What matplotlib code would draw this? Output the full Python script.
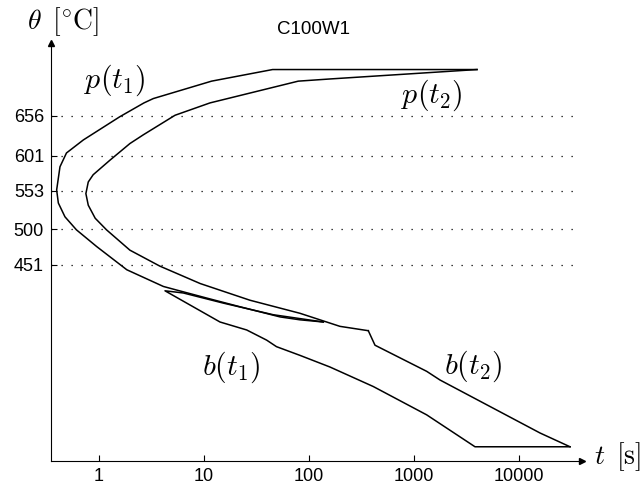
import matplotlib
matplotlib.use('Agg')
import matplotlib.pyplot as plt
from matplotlib.ticker import NullLocator

plt.rcParams['mathtext.fontset'] = 'cm'
plt.rcParams['font.family'] = ['Liberation Sans', 'DejaVu Sans']

# pearlite start p(t1), from the bay tip up to the top and along to the right
p1_t = [137, 82, 53, 22, 10.6, 5.5, 4.1, 1.84, 0.95, 0.61, 0.474, 0.41, 0.395,
        0.425, 0.49, 0.71, 1.58, 2.68, 3.29, 11.8, 45, 3980]
p1_T = [372, 375, 379, 393, 405, 416, 421, 444, 476, 499, 517, 536, 554,
        586, 605, 623, 655, 674, 680, 704, 720, 720]

# pearlite finish p(t2)
p2_t = [3980, 158, 79, 11.4, 5.3, 2.64, 1.97, 1.27, 0.88, 0.79, 0.75, 0.79,
        0.92, 1.18, 1.97, 3.8, 9.2, 27.4, 82, 197, 367]
p2_T = [720, 707, 704, 674, 657, 630, 618, 595, 575, 565, 549, 533,
        515, 499, 471, 449, 425, 402, 384, 366, 360]

# bainite start b(t1)
b1_t = [137, 45.7, 15.3, 6.35, 4.25, 14.2, 25.5, 39.5, 49, 82, 158, 410, 1320, 3810, 30600]
b1_T = [372, 382, 398, 412, 415, 372, 361, 347, 338, 326, 310, 283, 244, 200, 200]

# bainite finish b(t2)
b2_t = [367, 425, 1320, 1770, 15850, 30600]
b2_T = [360, 340, 304, 292, 219, 200]

levels = [451, 500, 553, 601, 656]
xticks = [1, 10, 100, 1000, 10000]

fig = plt.figure(figsize=(6.43, 4.95), dpi=100)
ax = fig.add_axes([51/643, (495-460.7)/495, (582-51)/643, (460.7-42.7)/495])
ax.set_xscale('log')
ax.set_xlim(0.349, 39800)
ax.set_ylim(180.8, 757)

ax.hlines(levels, 0.349, 34100, colors='k', linestyles=(0, (1, 7)), lw=0.9)

for t, T in [(p1_t, p1_T), (p2_t, p2_T), (b1_t, b1_T), (b2_t, b2_T)]:
    ax.plot(t, T, color='k', lw=1.1)

lab = dict(fontsize=21.5, ha='center', va='center')
ax.text(1.42, 705, r'$p(t_1)$', **lab)
ax.text(1483, 685, r'$p(t_2)$', **lab)
ax.text(18.1, 309, r'$b(t_1)$', **lab)
ax.text(3646, 311, r'$b(t_2)$', **lab)

ax.spines['top'].set_visible(False)
ax.spines['right'].set_visible(False)
ax.plot(1, 0, '>k', transform=ax.transAxes, clip_on=False, ms=5)
ax.plot(0, 1, '^k', transform=ax.transAxes, clip_on=False, ms=5)

ax.set_xticks(xticks)
ax.set_xticklabels([str(v) for v in xticks])
ax.xaxis.set_minor_locator(NullLocator())
ax.set_yticks(levels)
ax.set_yticklabels([str(v) for v in levels])
ax.tick_params(direction='in', length=4, labelsize=13, pad=5)

fig.text(63/643, 1 - 22/495, r'$\theta\ \,[^{\circ}\mathrm{C}]$', fontsize=20,
         ha='center', va='center')
fig.text(618/643, 1 - 457/495, r'$t\ \,[\mathrm{s}]$', fontsize=20,
         ha='center', va='center')
fig.text(314/643, 1 - 29/495, 'C100W1', fontsize=13.5, ha='center', va='center')

fig.savefig('out.png', dpi=100)
